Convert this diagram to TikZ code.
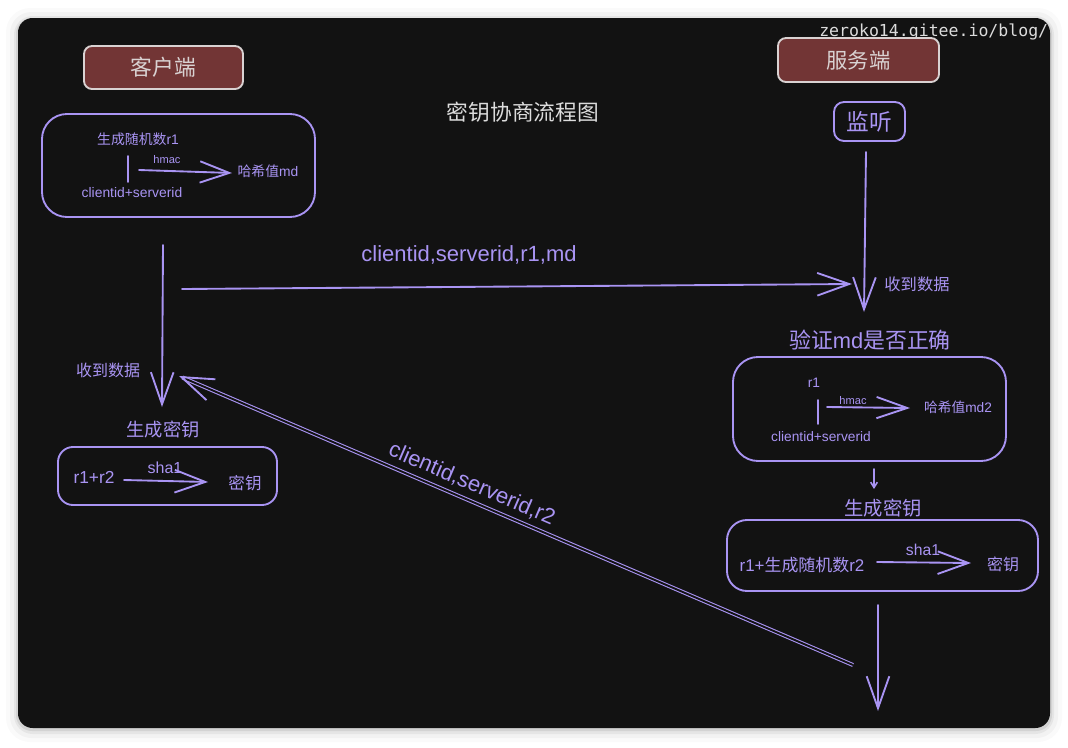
\documentclass[tikz,border=0pt]{standalone}
\usepackage{fontspec}
\setmainfont{Liberation Sans}
\newfontfamily\cjk{Noto Sans CJK SC}
\newfontfamily\wmfont{DejaVu Sans Mono}
\usetikzlibrary{arrows.meta}
\definecolor{bg}{HTML}{121212}
\definecolor{vio}{HTML}{A994F3}
\definecolor{redfill}{HTML}{723535}
\definecolor{redline}{HTML}{D9D2D2}
\definecolor{ttl}{HTML}{DCDCDC}
\newcommand{\zh}[1]{{\cjk #1}}
\tikzset{
  fsz/.style={font=\fontsize{#1}{#1}\selectfont},
  txt/.style={inner sep=0pt, text=vio},
  vbox/.style={draw=vio, line width=1.4pt, inner sep=0pt},
  redbox/.style={draw=redline, fill=redfill, line width=1.4pt, rounded corners=6pt, inner sep=0pt, text=redline},
  ln/.style={draw=vio, line width=1.4pt, line cap=round},
  bigarrow/.style={ln, -{Straight Barb[length=24pt,width=17pt]}},
  midarrow/.style={ln, -{Straight Barb[length=23pt,width=17pt]}},
  smallarrow/.style={ln, line width=1.2pt, -{Straight Barb[length=4pt,width=5pt]}},
}
\begin{document}
\begin{tikzpicture}[x=0.75pt,y=-0.75pt]
\useasboundingbox (0,0) rectangle (1068,747);
\fill[white] (0,0) rectangle (1068,747);
% shadow
\fill[black, opacity=0.02, rounded corners=18pt] (6,8) rectangle (1062,742);
\fill[black, opacity=0.03, rounded corners=16pt] (10,12) rectangle (1058,738);
\fill[black, opacity=0.05, rounded corners=14pt] (14,16) rectangle (1054,734);
\fill[black, opacity=0.08, rounded corners=12pt] (16,18) rectangle (1052,731);
% frame
\fill[bg, rounded corners=11pt] (18,18) rectangle (1050,728);

% watermark
\node[anchor=base west, inner sep=0pt, text=ttl, font=\wmfont\fontsize{12.4pt}{13pt}\selectfont] (wm) at (819,36) {zeroko14.gitee.io/blog/};

% title
\node[inner sep=0pt, text=ttl, fsz=16.3pt] (title) at (523,112) {\zh{密钥协商流程图}};

% header boxes
\node[redbox, minimum width=119.25pt, minimum height=32.25pt, fsz=16.3pt] (client) at (163.5,67.5) {\zh{客户端}};
\node[redbox, minimum width=120.75pt, minimum height=33pt, fsz=16pt] (server) at (858.5,60) {\zh{服务端}};
\node[vbox, rounded corners=7.5pt, minimum width=53.25pt, minimum height=29.25pt, text=vio, fsz=17pt] (listen) at (869.5,121.5) {\zh{监听}};

% client box 1
\node[vbox, rounded corners=18.75pt, minimum width=204.75pt, minimum height=77.25pt] (cbox1) at (178.5,165.5) {};
\node[txt, fsz=10.4pt] (cr1) at (138,139) {\zh{生成随机数}r1};
\coordinate (cbarT) at (128,156);
\coordinate (cbarB) at (128,182);
\draw[ln, line width=1.2pt] (cbarT) -- (cbarB);
\node[txt, fsz=8.3pt] (chmac) at (167,160) {hmac};
\coordinate (cha) at (139,170);
\coordinate (chb) at (232,173);
\draw[ln, -{Straight Barb[length=22pt,width=16pt]}] (cha) -- (chb);
\node[txt, fsz=10.4pt] (cmd) at (268,171) {\zh{哈希值}md};
\node[txt, fsz=10.4pt] (cids) at (132,193) {clientid+serverid};

% client vertical arrow
\coordinate (cvA) at (163,245);
\coordinate (cvB) at (162,407);
\draw[bigarrow] (cvA) -- (cvB);
\node[txt, fsz=12pt] (crecv) at (108,370) {\zh{收到数据}};

% horizontal message arrow
\coordinate (hA) at (182,289);
\coordinate (hB) at (852,284);
\draw[bigarrow] (hA) -- (hB);
\node[txt, fsz=16.5pt] (hlab) at (469,255) {clientid,serverid,r1,md};

% server vertical arrow 1
\coordinate (svA) at (866,152);
\coordinate (svB) at (864,312);
\draw[bigarrow] (svA) -- (svB);
\node[txt, fsz=12.2pt] (srecv) at (917,284) {\zh{收到数据}};

% verify
\node[txt, fsz=16.4pt] (verify) at (870,340) {\zh{验证}md\zh{是否正确}};
\node[vbox, rounded corners=18.75pt, minimum width=204.75pt, minimum height=78pt] (sbox2) at (869.5,409) {};
\node[txt, fsz=10.3pt] (sr1) at (814,383) {r1};
\coordinate (sbarT) at (818,400);
\coordinate (sbarB) at (818,424);
\draw[ln, line width=1.2pt] (sbarT) -- (sbarB);
\node[txt, fsz=8.3pt] (shmac) at (853,401) {hmac};
\coordinate (sha) at (827,407);
\coordinate (shb) at (910,408);
\draw[ln, -{Straight Barb[length=23pt,width=16pt]}] (sha) -- (shb);
\node[txt, fsz=10.3pt] (smd2) at (958,407) {\zh{哈希值}md2};
\node[txt, fsz=10.3pt] (sids) at (821,437) {clientid+serverid};

% small arrow
\coordinate (ssA) at (874,469);
\coordinate (ssB) at (874,489);
\draw[smallarrow] (ssA) -- (ssB);

% server key generation
\node[txt, fsz=14.5pt] (sgen) at (883,508) {\zh{生成密钥}};
\node[vbox, rounded corners=15pt, minimum width=233.25pt, minimum height=53.25pt] (sbox3) at (882.5,555.5) {};
\node[txt, fsz=12.7pt] (sr1r2) at (802,565) {r1+\zh{生成随机数}r2};
\node[txt, fsz=11.8pt] (ssha) at (923,550) {sha1};
\coordinate (s3a) at (877,562);
\coordinate (s3b) at (971,563);
\draw[midarrow] (s3a) -- (s3b);
\node[txt, fsz=12pt] (skey) at (1003,564) {\zh{密钥}};

% server bottom arrow
\coordinate (sbA) at (878,605);
\coordinate (sbB) at (878,711);
\draw[bigarrow] (sbA) -- (sbB);

% diagonal return arrow
\coordinate (dA) at (853,665);
\coordinate (dB) at (179,376);
\draw[draw=vio, line width=0.8pt, double=bg, double distance=1.4pt, -{Straight Barb[length=24pt,width=17pt,line width=1.4pt]}] (dA) -- (dB);
\node[txt, fsz=16.5pt, rotate=-23.2] (dlab) at (472,484) {clientid,serverid,r2};

% client key generation
\node[txt, fsz=13.7pt] (cgen) at (163,430) {\zh{生成密钥}};
\node[vbox, rounded corners=11.25pt, minimum width=164.25pt, minimum height=43.5pt] (cbox2) at (167.5,476) {};
\node[txt, fsz=13pt] (cr1r2) at (94,477) {r1+r2};
\node[txt, fsz=12pt] (csha) at (165,468) {sha1};
\coordinate (c2a) at (124,480);
\coordinate (c2b) at (208,482);
\draw[midarrow] (c2a) -- (c2b);
\node[txt, fsz=12.4pt] (ckey) at (245,483) {\zh{密钥}};
\end{tikzpicture}
\end{document}
